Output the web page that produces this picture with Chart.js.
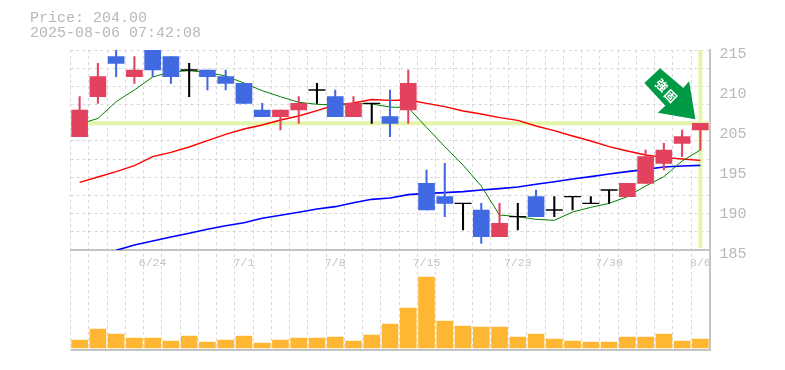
<!DOCTYPE html>
<html lang="en">
<head>
    <meta charset="UTF-8">
    <title>Price chart</title>
    <script src="https://cdn.jsdelivr.net/npm/chart.js"></script>
    <style>
        body { margin: 0; background: #fff; }
        canvas { display: block; }
    </style>
</head>
<body>
    <canvas id="priceChart" width="785" height="370"></canvas>
    <script>
        const dates = ['6/18', '6/19', '6/20', '6/23', '6/24', '6/25', '6/26', '6/27', '6/30', '7/1', '7/2', '7/3', '7/4', '7/7', '7/8', '7/9', '7/10', '7/11', '7/14', '7/15', '7/16', '7/17', '7/18', '7/22', '7/23', '7/24', '7/25', '7/28', '7/29', '7/30', '7/31', '8/1', '8/4', '8/5', '8/6'];
        const shownDates = ['6/24', '7/1', '7/8', '7/15', '7/23', '7/30', '8/6'];
        const opens = [202, 208, 214, 211, 215, 214, 212, 212, 211, 210, 206, 205, 206, 209, 208, 205, 207, 205, 206, 195, 193, 192, 191, 187, 190, 193, 191, 193, 192, 194, 193, 195, 198, 201, 203];
        const highs = [208, 213, 215, 214, 215, 214, 213, 212, 212, 210, 207, 206, 208, 210, 209, 208, 207, 209, 212, 197, 198, 192, 192, 192, 192, 194, 193, 193, 193, 194, 195, 200, 201, 203, 204];
        const lows = [202, 207, 211, 210, 211, 210, 208, 209, 209, 207, 205, 203, 204, 207, 205, 205, 204, 202, 204, 191, 190, 188, 186, 187, 188, 190, 190, 191, 192, 192, 193, 195, 197, 199, 200];
        const closes = [206, 211, 213, 212, 212, 211, 212, 211, 210, 207, 205, 206, 207, 209, 205, 207, 207, 204, 210, 191, 192, 192, 187, 189, 190, 190, 191, 193, 192, 194, 195, 199, 200, 202, 204];
        const maShort = [203.9, 204.73, 207.25, 209, 210.95, 211.7, 211.9, 211.63, 211.1, 210.05, 208.9, 207.99, 207.16, 206.86, 206.75, 207, 206.9, 206.45, 206.35, 203.4, 200.5, 197.75, 194.6, 190.25, 190, 189.6, 189.45, 190.7, 191.4, 192, 193, 194.6, 196, 198.35, 200];
        const maMid = [195.15, 195.95, 196.75, 197.65, 199, 199.65, 200.45, 201.4, 202.35, 203.15, 203.75, 204.5, 205.1, 205.9, 206.75, 207.05, 207.58, 207.45, 207.5, 207, 206.5, 205.85, 205.4, 204.85, 204.45, 203.6, 202.9, 202.1, 201.35, 200.5, 199.85, 199.25, 198.9, 198.65, 198.45];
        const maLong = [null, null, 184.95, 185.75, 186.35, 186.95, 187.5, 188.1, 188.65, 189.1, 189.75, 190.2, 190.65, 191.15, 191.5, 192.1, 192.6, 192.8, 193.3, 193.5, 193.6, 193.75, 194, 194.2, 194.45, 194.85, 195.25, 195.65, 196, 196.4, 196.75, 197.1, 197.45, 197.6, 197.7];
        const volumes = [8, 19, 14, 10, 10, 7, 12, 6, 8, 12, 5, 8, 10, 10, 11, 7, 13, 24, 40, 71, 27, 22, 21, 21, 11, 14, 9, 7, 6, 6, 11, 11, 14, 7, 9];

        // the drawn axis labels sit on these prices, rounded to 5 in the original
        const labelPrices = [215, 209, 203, 197, 191, 185];
        const priceLabels = ['215', '210', '205', '195', '190', '185'];
        const gridPrices = Array.from({ length: 12 }, (_, i) => 215 - i * 30 / 11);

        const lastPrice = 204;
        const headerLines = ['Price: 204.00', '2025-08-06 07:42:08'];
        const signalText = ['強', '固'];

        const RED = '#e3425f', BLUE = '#4169e1', BLACK = '#000000';
        const GRID = '#d8d8d8', AXIS = '#c4c4c4', TEXT = '#b8b8b8', HILITE = '#e3f5a8';

        const candleColor = i => closes[i] > opens[i] ? RED : closes[i] < opens[i] ? BLUE : BLACK;
        const colors = dates.map((_, i) => candleColor(i));

        // Highlight cross on the last candle, drawn under everything else
        const highlightPlugin = {
            id: 'highlight',
            beforeDatasetsDraw(chart) {
                const { ctx, chartArea, scales } = chart;
                const px = scales.x.getPixelForValue(dates.length - 1);
                const py = scales.y.getPixelForValue(lastPrice);
                ctx.save();
                ctx.fillStyle = HILITE;
                ctx.fillRect(chartArea.left, py - 2, chartArea.right - chartArea.left, 4);
                ctx.fillRect(px - 2, scales.y.top, 4, scales.y.bottom - scales.y.top - 2);
                ctx.restore();
            }
        };

        // Header text and the signal arrow pointing at the last price
        const overlayPlugin = {
            id: 'overlay',
            afterDraw(chart) {
                const { ctx, scales } = chart;
                ctx.save();
                ctx.font = '15px "Liberation Mono"';
                ctx.fillStyle = TEXT;
                ctx.textBaseline = 'middle';
                ctx.fillText(headerLines[0], 30, 18);
                ctx.fillText(headerLines[1], 30, 33);

                const tipX = scales.x.getPixelForValue(dates.length - 1) - 5;
                const tipY = scales.y.getPixelForValue(lastPrice) - 4;
                const shape = [[0, 0], [-6.3, -38], [-12, -31.3], [-35.3, -51], [-51, -36.3], [-30, -13.7], [-37.6, -6.7]];
                ctx.fillStyle = '#009944';
                ctx.beginPath();
                shape.forEach(([dx, dy], i) => i ? ctx.lineTo(tipX + dx, tipY + dy) : ctx.moveTo(tipX + dx, tipY + dy));
                ctx.closePath();
                ctx.fill();

                ctx.fillStyle = '#ffffff';
                ctx.font = 'bold 12px "Noto Sans CJK JP"';
                ctx.textAlign = 'center';
                [[-33.6, -34], [-24.6, -23.3]].forEach(([dx, dy], i) => {
                    ctx.save();
                    ctx.translate(tipX + dx, tipY + dy);
                    ctx.rotate(Math.PI / 4);
                    ctx.fillText(signalText[i], 0, 0);
                    ctx.restore();
                });
                ctx.restore();
            }
        };

        const ctx = document.getElementById('priceChart').getContext('2d');
        new Chart(ctx, {
            type: 'bar',
            data: {
                labels: dates,
                datasets: [
                    { type: 'line', data: maLong, borderColor: '#0000ff', borderWidth: 1.6, pointRadius: 0, tension: 0, yAxisID: 'y', order: 5 },
                    { type: 'line', data: maMid, borderColor: '#ff0000', borderWidth: 1.4, pointRadius: 0, tension: 0, yAxisID: 'y', order: 4 },
                    { type: 'line', data: maShort, borderColor: '#008000', borderWidth: 1, pointRadius: 0, tension: 0, yAxisID: 'y', order: 3 },
                    { data: dates.map((_, i) => [lows[i], highs[i]]), backgroundColor: colors, barThickness: 1.4, grouped: false, yAxisID: 'y', order: 2 },
                    { data: dates.map((_, i) => opens[i] === closes[i] ? null : [opens[i], closes[i]]), backgroundColor: colors, barThickness: 16, grouped: false, yAxisID: 'y', order: 1 },
                    { type: 'line', data: dates.map((_, i) => opens[i] === closes[i] ? closes[i] : null), showLine: false, pointStyle: 'line', pointRadius: 8.5, pointBorderWidth: 1.4, pointBorderColor: BLACK, yAxisID: 'y', order: 1 },
                    { data: volumes, backgroundColor: '#ffb733', barThickness: 16, grouped: false, yAxisID: 'volume', order: 6 }
                ]
            },
            options: {
                responsive: false,
                animation: false,
                layout: { padding: { left: 70.5, top: 50, right: 0, bottom: 20 } },
                plugins: { legend: { display: false }, tooltip: { enabled: false } },
                scales: {
                    x: {
                        // date labels run under the price pane, not under the volume bars
                        position: { y: 185 },
                        grid: { offset: true, color: GRID, drawTicks: false },
                        border: { color: AXIS, width: 2, dash: [3, 3] },
                        ticks: {
                            autoSkip: false,
                            maxRotation: 0,
                            padding: 6,
                            color: '#c4c4c4',
                            font: { family: '"Liberation Mono"', size: 11.5 },
                            callback(value) {
                                const label = this.getLabelForValue(value);
                                return shownDates.includes(label) ? label : '';
                            }
                        }
                    },
                    y: {
                        position: 'right',
                        stack: 'panes',
                        stackWeight: 2,
                        min: 185,
                        max: 215,
                        afterBuildTicks(scale) {
                            scale.ticks = gridPrices.concat(labelPrices.slice(1, 5)).map(value => ({ value }));
                        },
                        grid: {
                            drawTicks: false,
                            color: c => !c.tick || labelPrices.slice(1, 5).includes(c.tick.value) || c.tick.value === 185 ? 'transparent' : GRID
                        },
                        border: { color: AXIS, width: 2, dash: [3, 3] },
                        ticks: {
                            autoSkip: false,
                            padding: 10,
                            labelOffset: 4,
                            color: TEXT,
                            font: { family: '"Liberation Mono"', size: 15 },
                            callback(value) {
                                const i = labelPrices.indexOf(value);
                                return i < 0 ? '' : priceLabels[i];
                            }
                        },
                        afterFit(scale) { scale.width = 75.5; }
                    },
                    volume: {
                        position: 'right',
                        stack: 'panes',
                        stackWeight: 1,
                        min: -2,
                        max: 98,
                        afterBuildTicks(scale) {
                            scale.ticks = [{ value: -2 }];
                        },
                        grid: { drawTicks: false, color: AXIS, lineWidth: 2 },
                        border: { color: AXIS, width: 2 },
                        ticks: { display: false },
                        afterFit(scale) { scale.width = 75.5; }
                    }
                }
            },
            plugins: [highlightPlugin, overlayPlugin]
        });
    </script>
</body>
</html>
